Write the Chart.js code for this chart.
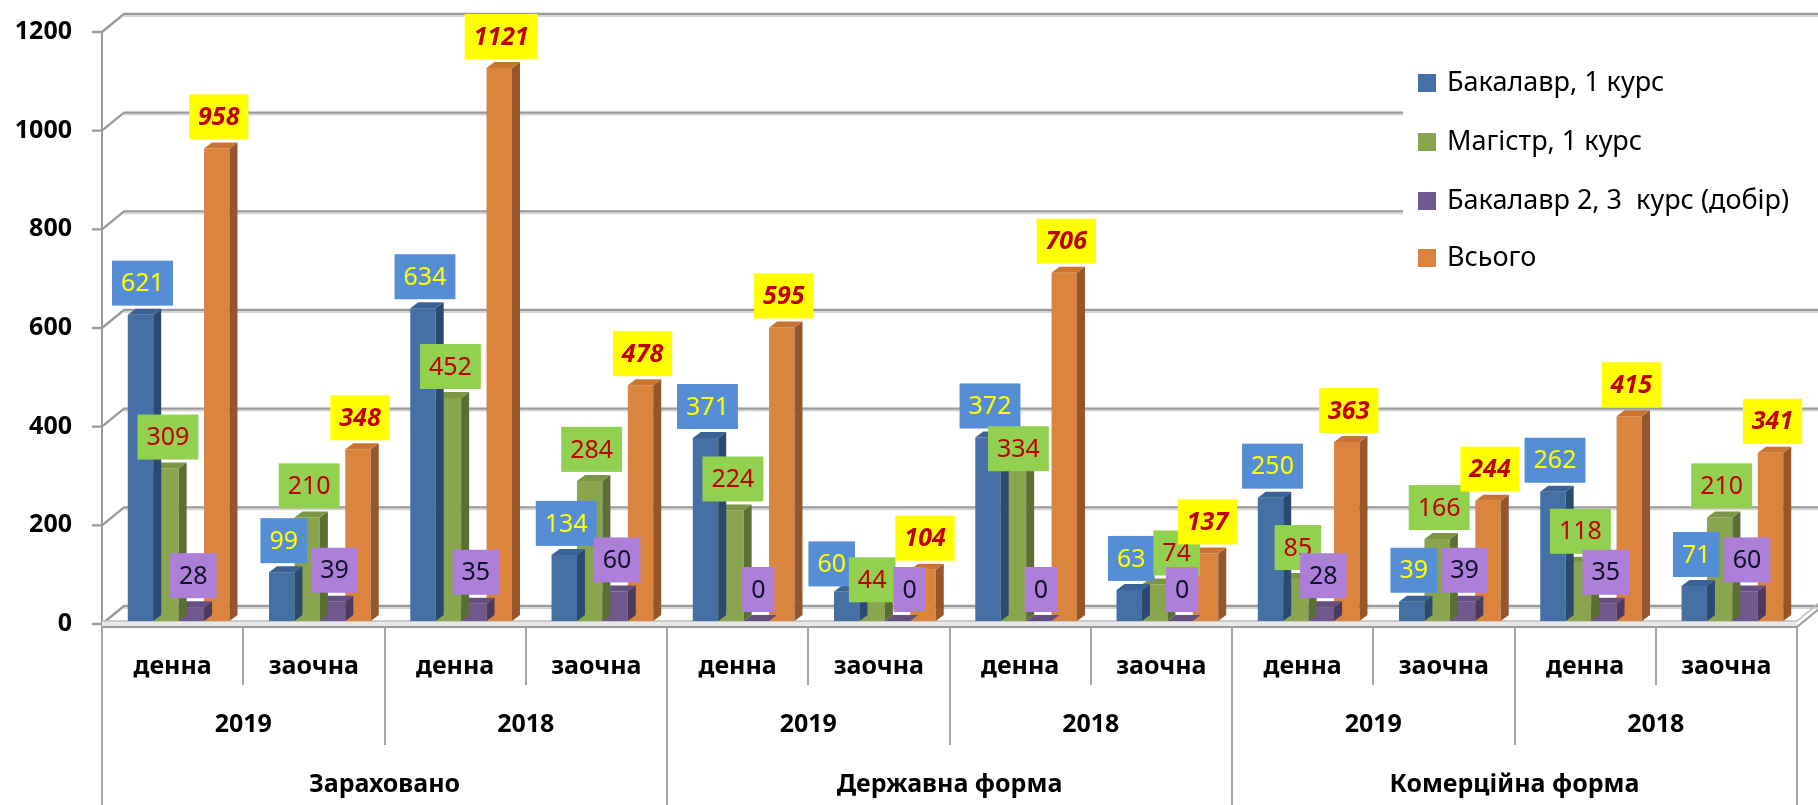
<!DOCTYPE html>
<html><head><meta charset="utf-8">
<script src="https://cdn.jsdelivr.net/npm/chart.js@4.4.1/dist/chart.umd.min.js"></script>
<style>html,body{margin:0;padding:0;background:#fff;overflow:hidden}</style>
</head><body>
<canvas id="c" width="1818" height="805" style="display:block;width:1818px;height:805px"></canvas>
<script>
// ---- data ----
const studyForms = ['денна','заочна','денна','заочна','денна','заочна','денна','заочна','денна','заочна','денна','заочна'];
const years = ['2019','2018','2019','2018','2019','2018'];
const groups = ['Зараховано','Державна форма','Комерційна форма'];
const seriesNames = ['Бакалавр, 1 курс','Магістр, 1 курс','Бакалавр 2, 3  курс (добір)','Всього'];
const bachelor1 = [621,99,634,134,371,60,372,63,250,39,262,71];
const master1 = [309,210,452,284,224,44,334,74,85,166,118,210];
const bachelor23 = [28,39,35,60,0,0,0,0,28,39,35,60];
const total = [958,348,1121,478,595,104,706,137,363,244,415,341];
const yTicks = [0,200,400,600,800,1000,1200];

// ---- styles ----
const FONT = '"Noto Sans", "Open Sans", "DejaVu Sans", sans-serif';
const frontColors = ['#4470A6','#89A54E','#71588F','#DB843D'];
const sideColors = ['#2C4A70','#5B6E33','#4B3A60','#94562A'];
const topColors = ['#3A6294','#7C9645','#654F80','#C97531'];
const labelBg = ['#558ED5','#92D050','#AD7FD9','#FFFF00'];
const labelFg = ['#FFFF00','#C00000','#10102A','#C00000'];
const labelFont = ['25px '+FONT,'25px '+FONT,'25px '+FONT,'italic bold 25px '+FONT];
// manual label nudges (series,category) as in the original chart
const labelNudge = {'0,5':{dx:-17,dy:4}, '1,5':{dx:-2,dy:12}, '2,5':{dx:10,dy:0},
                    '1,6':{dx:3,dy:24}, '1,7':{dx:20,dy:0}};
const OFF = {x:6, y:-3};     // bar depth offset (mid-depth)
const DEPTH = {x:8, y:6};    // bar side/top face
const WALL = {x:22, y:-18};  // back wall offset
const GRID = '#9A9A9A';

const seriesValues = [bachelor1, master1, bachelor23, total];

const scene3d = {
  id:'scene3d',
  beforeDatasetsDraw(chart){
    const {ctx, chartArea:a, scales:{x, y}} = chart;
    const y0 = y.getPixelForValue(0);
    ctx.save();
    // floor
    ctx.beginPath();
    ctx.moveTo(a.left, y0); ctx.lineTo(a.right, y0);
    ctx.lineTo(a.right+WALL.x, y0+WALL.y); ctx.lineTo(a.left+WALL.x, y0+WALL.y); ctx.closePath();
    ctx.fillStyle = '#FFFFFF'; ctx.fill();
    // gridlines on back wall + left wall diagonals
    yTicks.forEach(v => {
      const py = y.getPixelForValue(v);
      ctx.strokeStyle = '#D6D6D6'; ctx.lineWidth = 1.5;
      ctx.beginPath(); ctx.moveTo(a.left+WALL.x, py+WALL.y+2.2); ctx.lineTo(1818, py+WALL.y+2.2); ctx.stroke();
      ctx.strokeStyle = GRID; ctx.lineWidth = 2.4;
      ctx.beginPath();
      ctx.moveTo(a.left-10, py); ctx.lineTo(a.left, py);
      ctx.lineTo(a.left+WALL.x, py+WALL.y); ctx.lineTo(1818, py+WALL.y);
      ctx.stroke();
    });
    // front vertical axis
    ctx.strokeStyle = GRID; ctx.lineWidth = 2;
    ctx.beginPath(); ctx.moveTo(a.left, y.getPixelForValue(1200)); ctx.lineTo(a.left, y0+3); ctx.stroke();
    // floor front slab
    ctx.fillStyle = '#E8E8E8';
    ctx.fillRect(a.left, y0-3, a.right-a.left, 6);
    ctx.strokeStyle = '#BDBDBD'; ctx.lineWidth = 1.5;
    ctx.beginPath(); ctx.moveTo(a.left, y0-3); ctx.lineTo(a.right, y0-3);
    ctx.lineTo(a.right+WALL.x, y0-3+WALL.y); ctx.stroke();
    ctx.strokeStyle = GRID; ctx.lineWidth = 2;
    ctx.beginPath(); ctx.moveTo(a.left, y0+3); ctx.lineTo(a.right, y0+3);
    ctx.lineTo(a.right+WALL.x, y0+3+WALL.y); ctx.stroke();

    // hierarchical x axis
    const n = studyForms.length;
    const cw = (a.right - a.left)/n;
    ctx.strokeStyle = '#A6A6A6'; ctx.lineWidth = 2;
    for (let i=0;i<=n;i++){
      const px = Math.round(a.left + i*cw);
      let bottom = 685;
      if (i%4===0) bottom = 805; else if (i%2===0) bottom = 745;
      ctx.beginPath(); ctx.moveTo(px, y0+3); ctx.lineTo(px, bottom); ctx.stroke();
    }
    ctx.fillStyle = '#000'; ctx.textAlign='center'; ctx.textBaseline='middle';
    ctx.font = 'bold 25px '+FONT;
    studyForms.forEach((s,i)=>{ ctx.fillText(s, x.getPixelForValue(i), 667); });
    years.forEach((s,i)=>{ ctx.fillText(s, a.left + (2*i+1)*cw, 725); });
    groups.forEach((s,i)=>{ ctx.fillText(s, a.left + (4*i+2)*cw, 785); });
    ctx.restore();

    // legend (white box over back wall)
    ctx.save();
    ctx.fillStyle = '#fff'; ctx.fillRect(1403, 50, 415, 240);
    const rows = [83, 142, 201, 258];
    ctx.font = '27px '+FONT; ctx.textAlign='left'; ctx.textBaseline='middle';
    chart.data.datasets.forEach((ds,i)=>{
      ctx.fillStyle = ds.backgroundColor; ctx.fillRect(1418, rows[i]-9, 18, 18);
      ctx.fillStyle = '#000'; ctx.fillText(ds.label, 1447, rows[i]);
    });
    ctx.restore();

    ctx.save();
    ctx.translate(OFF.x, OFF.y);
  },
  afterDatasetDraw(chart, args){
    const {ctx} = chart;
    const i = args.index;
    args.meta.data.forEach(el => {
      const x0 = el.x - el.width/2, x1 = el.x + el.width/2, top = el.y, base = el.base;
      ctx.fillStyle = sideColors[i];
      ctx.beginPath();
      ctx.moveTo(x1, top); ctx.lineTo(x1+DEPTH.x, top-DEPTH.y);
      ctx.lineTo(x1+DEPTH.x, base-DEPTH.y); ctx.lineTo(x1, base); ctx.closePath(); ctx.fill();
      ctx.fillStyle = topColors[i];
      ctx.beginPath();
      ctx.moveTo(x0, top); ctx.lineTo(x0+DEPTH.x, top-DEPTH.y);
      ctx.lineTo(x1+DEPTH.x, top-DEPTH.y); ctx.lineTo(x1, top); ctx.closePath(); ctx.fill();
    });
  },
  afterDatasetsDraw(chart){
    const {ctx} = chart;
    chart.data.datasets.forEach((ds, i) => {
      const meta = chart.getDatasetMeta(i);
      ctx.font = labelFont[i];
      ctx.textAlign = 'center'; ctx.textBaseline = 'middle';
      meta.data.forEach((el, j) => {
        const nd = labelNudge[i+','+j] || {dx:0, dy:0};
        const txt = String(ds.data[j]);
        const tw = ctx.measureText(txt).width;
        const w = tw + 18, h = 45;
        const cx = el.x + 2 + nd.dx, bottom = el.y - 9 + nd.dy;
        ctx.fillStyle = labelBg[i];
        ctx.fillRect(cx - w/2, bottom - h, w, h);
        ctx.fillStyle = labelFg[i];
        ctx.fillText(txt, cx, bottom - h/2 + 1);
      });
    });
    ctx.restore();
  }
};

new Chart(document.getElementById('c'), {
  type:'bar',
  data:{
    labels: studyForms,
    datasets: seriesNames.map((name,i)=>({
      label: name,
      data: seriesValues[i],
      backgroundColor: frontColors[i],
      borderWidth: 0,
      categoryPercentage: 0.72,
      barPercentage: 1.0
    }))
  },
  options:{
    responsive:false, animation:false, devicePixelRatio:1,
    layout:{padding:{left:0,right:21,top:32,bottom:0}},
    scales:{
      x:{ display:true, grid:{display:false}, border:{display:false}, ticks:{display:false},
          afterFit(s){ s.height = 181; } },
      y:{ min:0, max:1200,
          ticks:{stepSize:200, padding:30, color:'#000', font:{family:FONT, size:25, weight:'bold'},
                 callback: v => String(v)},
          grid:{display:false, drawTicks:false}, border:{display:false},
          afterFit(s){ s.width = 102; s.paddingTop = 0; s.paddingBottom = 0; } }
    },
    plugins:{ legend:{display:false}, tooltip:{enabled:false} }
  },
  plugins:[scene3d]
});
</script>
</body></html>
